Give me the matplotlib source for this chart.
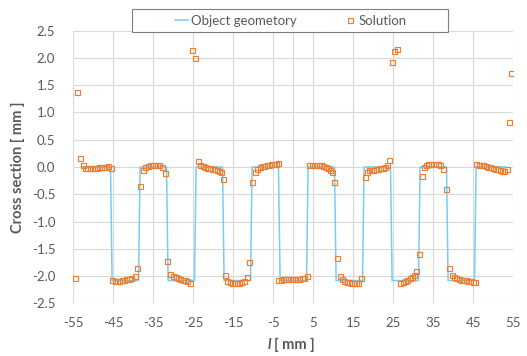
import matplotlib as mpl
mpl.use('agg')
import matplotlib.pyplot as plt
from matplotlib.patches import Rectangle
from matplotlib.lines import Line2D
import numpy as np

plt.rcParams['font.family'] = ['Lato', 'DejaVu Sans']
plt.rcParams['axes.unicode_minus'] = False

# object geometry (corner points of the trapezoid wave)
geo_x = [-53.0, -45.7, -45.3, -38.7, -38.3, -31.7, -31.3, -24.7, -24.3, -17.7,
         -17.3, -10.7, -10.3, -3.7, -3.3, 3.3, 3.7, 10.3, 10.7, 17.3,
         17.7, 24.3, 24.7, 31.3, 31.7, 38.3, 38.7, 45.3, 45.7, 53.0]
geo_y = [0.0, 0.0, -2.08, -2.08, 0.0, 0.0, -2.08, -2.08, 0.0, 0.0,
         -2.08, -2.08, 0.0, 0.0, -2.08, -2.08, 0.0, 0.0, -2.08, -2.08,
         0.0, 0.0, -2.08, -2.08, 0.0, 0.0, -2.08, -2.08, 0.0, 0.0]

# solution points
seg_x = [
  [-54.7, -54.1, -53.24, -52.66, -52.07, -51.49, -50.91, -50.33, -49.74, -49.16, -48.58, -48.0, -47.41, -46.83, -46.24, -45.66],
  [-45.24, -44.66, -44.08, -43.49, -42.91, -42.33, -41.74, -41.16, -40.49, -39.66, -38.99],
  [-38.33, -37.58, -37.0, -36.41, -35.83, -35.24, -34.66, -34.08, -33.49, -32.74, -32.16],
  [-31.49, -30.74, -29.99, -29.41, -28.83, -28.24, -27.66, -27.08, -26.49, -25.91, -25.35, -24.7],
  [-23.83, -23.24, -22.66, -22.08, -21.49, -20.91, -20.33, -19.74, -19.16, -18.65, -18.2, -17.7],
  [-17.08, -16.49, -15.91, -15.33, -14.74, -14.16, -13.58, -12.99, -12.41, -11.66, -10.99],
  [-10.24, -9.58, -9.08, -8.41, -7.83, -7.24, -6.66, -6.08, -5.49, -4.91, -4.33, -3.91],
  [-3.74, -3.16, -2.58, -1.99, -1.41, -0.83, -0.24, 0.34, 0.92, 1.51, 2.09, 2.67, 3.51],
  [4.01, 4.59, 5.17, 5.76, 6.34, 6.92, 7.51, 8.09, 8.67, 9.26, 9.59, 10.17],
  [11.01, 11.59, 12.17, 12.76, 13.34, 13.92, 14.51, 15.09, 15.67, 16.26, 16.84],
  [17.84, 18.43, 18.84, 19.43, 20.01, 20.59, 21.18, 21.76, 22.34, 22.93, 23.43, 24.01, 24.6, 25.25, 25.9],
  [26.76, 27.34, 27.93, 28.51, 29.09, 29.68, 30.26, 30.76, 31.51],
  [32.18, 32.68, 33.18, 33.76, 34.34, 34.93, 35.51, 36.09, 36.68, 37.51, 38.26],
  [39.01, 39.59, 40.18, 40.76, 41.34, 41.93, 42.51, 43.09, 43.68, 44.26, 44.84, 45.43],
  [45.76, 46.34, 46.93, 47.51, 48.09, 48.68, 49.26, 49.84, 50.43, 51.01, 51.59, 52.18, 52.76, 53.34, 53.9, 54.5],
]
seg_y = [
  [-2.04, 1.38, 0.165, 0.03, -0.012, -0.024, -0.024, -0.024, -0.018, -0.012, -0.006, 0.0, 0.006, 0.006, 0.012, -0.018],
  [-2.07, -2.088, -2.088, -2.082, -2.076, -2.07, -2.057, -2.045, -2.027, -1.996, -1.856],
  [-0.342, -0.055, 0.0, 0.024, 0.037, 0.043, 0.043, 0.043, 0.037, 0.006, -0.104],
  [-1.728, -1.96, -1.999, -2.02, -2.039, -2.051, -2.063, -2.075, -2.094, -2.124, 2.15, 2.0],
  [0.11, 0.037, 0.018, 0.0, -0.012, -0.024, -0.037, -0.043, -0.055, -0.065, -0.098, -0.22],
  [-1.978, -2.082, -2.112, -2.125, -2.131, -2.131, -2.125, -2.112, -2.082, -2.015, -1.734],
  [-0.281, -0.098, -0.043, -0.006, 0.012, 0.024, 0.037, 0.043, 0.049, 0.055, 0.061, 0.067],
  [-2.076, -2.063, -2.057, -2.057, -2.051, -2.051, -2.051, -2.051, -2.045, -2.045, -2.039, -2.039, -2.002],
  [0.03, 0.043, 0.043, 0.043, 0.037, 0.03, 0.018, 0.006, -0.018, -0.055, -0.098, -0.275],
  [-1.673, -1.99, -2.051, -2.082, -2.1, -2.112, -2.118, -2.125, -2.125, -2.118, -2.039],
  [-0.189, -0.086, -0.055, -0.055, -0.049, -0.043, -0.037, -0.024, -0.012, 0.006, 0.037, 0.122, 1.93, 2.12, 2.16],
  [-2.125, -2.1, -2.082, -2.063, -2.039, -2.008, -1.984, -1.898, -1.6],
  [-0.159, 0.006, 0.043, 0.055, 0.061, 0.061, 0.061, 0.055, 0.037, -0.037, -0.397],
  [-1.85, -1.978, -2.02, -2.039, -2.051, -2.063, -2.07, -2.076, -2.082, -2.094, -2.1, -2.112],
  [0.055, 0.043, 0.037, 0.03, 0.018, 0.006, -0.006, -0.018, -0.03, -0.043, -0.055, -0.073, -0.079, -0.037, 0.82, 1.73],
]
sol_x = [v for s in seg_x for v in s]
sol_y = [v for s in seg_y for v in s]

x_ticks = [-55, -45, -35, -25, -15, -5, 5, 15, 25, 35, 45, 55]
y_ticks = [-2.5, -2.0, -1.5, -1.0, -0.5, 0.0, 0.5, 1.0, 1.5, 2.0, 2.5]

geo_col = '#74CFF2'
sol_col = '#ED7D31'
txt_col = '#595959'
grid_col = '#D9D9D9'

fig = plt.figure(figsize=(5.27, 3.56), dpi=100)
ax = fig.add_axes([0.1391, 0.1475, 0.8349, 0.7668])

ax.plot(geo_x, geo_y, color=geo_col, lw=1.1, zorder=3)
ax.plot(sol_x, sol_y, ls='none', marker='s', ms=3.6, mfc='none',
        mec=sol_col, mew=0.85, zorder=4)

ax.set_xlim(-55, 55)
ax.set_ylim(-2.5, 2.5)
ax.set_xticks(x_ticks)
ax.set_yticks(y_ticks)
ax.set_yticklabels(['%.1f' % t for t in y_ticks])
ax.grid(True, color=grid_col, lw=0.8, zorder=0)
ax.axvline(0, color=grid_col, lw=0.8, zorder=0)
ax.set_axisbelow(True)
for sp in ax.spines.values():
  sp.set_visible(False)
ax.tick_params(axis='both', length=0, labelsize=9.5, labelcolor=txt_col)
ax.tick_params(axis='y', pad=13)
ax.tick_params(axis='x', pad=10)

fig.text(0.034, 0.53, 'Cross section [ mm ]', rotation=90, ha='center',
         va='center', fontsize=10.5, fontweight='bold', color=txt_col)
fig.text(0.511, 0.031, 'l', ha='center', va='center', fontsize=10.5,
         fontweight='bold', fontstyle='italic', color=txt_col)
fig.text(0.520, 0.031, '[ mm ]', ha='left', va='center', fontsize=10.5,
         fontweight='bold', color=txt_col)

# legend box
fig.patches.append(Rectangle((132/527, 1-32.3/356), 316/527, 23/356,
                             transform=fig.transFigure, facecolor='white',
                             edgecolor='#7F7F7F', lw=0.8, zorder=5))
handles = [Line2D([], [], color=geo_col, lw=1.1),
           Line2D([], [], ls='none', marker='s', ms=3.6, mfc='none',
                  mec=sol_col, mew=0.85)]
leg = fig.legend(handles, ['Object geometory', 'Solution'], ncol=2,
                 loc='center', bbox_to_anchor=(291/527, 1-20.8/356),
                 frameon=False, fontsize=9.5, handlelength=1.0,
                 handletextpad=0.2, columnspacing=3.5, labelcolor=txt_col)
leg.set_zorder(6)

fig.savefig('out.png', dpi=100)
